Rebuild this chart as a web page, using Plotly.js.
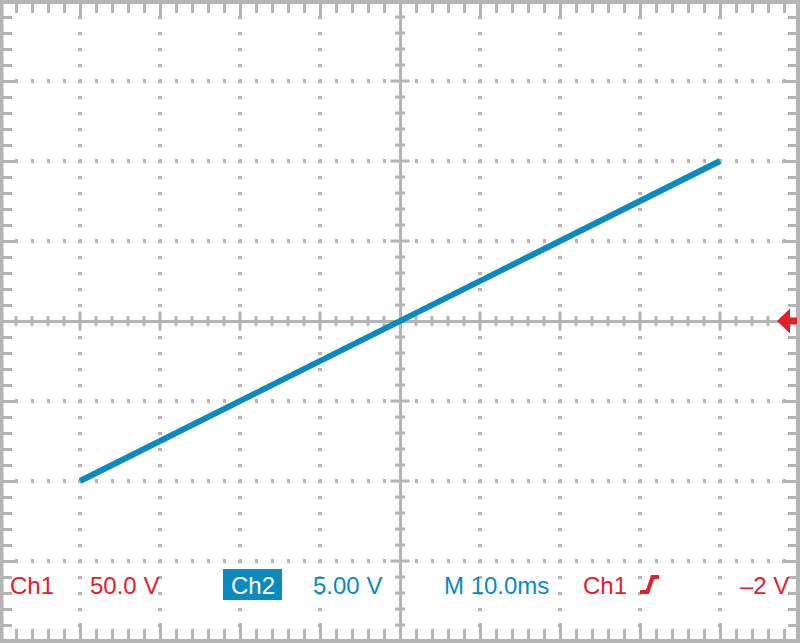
<!DOCTYPE html>
<html>
<head>
<meta charset="utf-8">
<script src="https://cdn.plot.ly/plotly-3.0.1.min.js"></script>
<style>
  html, body { margin: 0; padding: 0; background: #ffffff; }
  #chart { width: 800px; height: 643px; }
</style>
</head>
<body>
<div id="chart"></div>
<script>
// ---- data (Ch2 ramp, 10 ms/div, 5 V/div) ----
const timeMs = [-40, 40];
const ch2Volts = [-10, 10];
const timeRange = [-50, 50];
const voltRange = [-20, 20];
const timePerDiv = 10;
const voltPerDiv = 5;
const readoutLabels = ['Ch1', '50.0 V', 'Ch2', '5.00 V', 'M 10.0ms', 'Ch1', '\u20132 V'];

// ---- styles ----
const GRAY = '#b4b4b4';
const BLUE = '#0a8abf';
const RED = '#e3202a';
const FONT = 'Liberation Sans, Arial, sans-serif';
const W = 800, H = 643, MT = 1, MB = 2;
const PH = H - MT - MB;

function px2paperX(px) { return px / W; }
function px2paperY(py) { return (H - MB - py) / PH; }
function pt(px, py) { return px2paperX(px).toFixed(5) + ',' + px2paperY(py).toFixed(5); }

const shapes = [];

// center-axis tick marks
const minorT = timePerDiv / 5, minorV = voltPerDiv / 5;
for (let i = -24; i <= 24; i++) {
  if (i === 0) continue;
  const t = i * minorT;
  const major = (i % 5 === 0);
  const h = major ? 9.5 : 5;
  shapes.push({type: 'line', layer: 'below', xref: 'x', yref: 'y', ysizemode: 'pixel', yanchor: 0,
    x0: t, x1: t, y0: -h, y1: h, line: {color: GRAY, width: 3}});
}
for (let i = -19; i <= 19; i++) {
  if (i === 0) continue;
  const v = i * minorV;
  const major = (i % 5 === 0);
  const h = major ? 9.5 : 5;
  shapes.push({type: 'line', layer: 'below', yref: 'y', xref: 'x', xsizemode: 'pixel', xanchor: 0,
    y0: v, y1: v, x0: -h, x1: h, line: {color: GRAY, width: 3}});
}

// frame
shapes.push({type: 'line', xref: 'paper', yref: 'paper', x0: 0, x1: 0, y0: -0.02, y1: 1.02, line: {color: GRAY, width: 7}});
shapes.push({type: 'line', xref: 'paper', yref: 'paper', x0: 1, x1: 1, y0: -0.02, y1: 1.02, line: {color: GRAY, width: 8}});
shapes.push({type: 'line', xref: 'paper', yref: 'paper', x0: -0.01, x1: 1.01, y0: 1, y1: 1, line: {color: GRAY, width: 6}});
shapes.push({type: 'line', xref: 'paper', yref: 'paper', x0: -0.01, x1: 1.01, y0: 0, y1: 0, line: {color: GRAY, width: 4}});

// trigger-level arrow at right edge
shapes.push({type: 'path', xref: 'paper', xsizemode: 'pixel', xanchor: 1, yref: 'y', ysizemode: 'pixel', yanchor: 0,
  path: 'M-23,0 L-10,12.5 L-10,3.5 L-3,3.5 L-3,-3.5 L-10,-3.5 L-10,-12.5 Z',
  fillcolor: RED, line: {width: 0}});

// Ch2 label box
shapes.push({type: 'rect', xref: 'paper', yref: 'paper',
  x0: px2paperX(223), x1: px2paperX(282), y0: px2paperY(600), y1: px2paperY(569),
  fillcolor: BLUE, line: {width: 0}});

// rising-edge trigger glyph
shapes.push({type: 'path', xref: 'paper', yref: 'paper',
  path: 'M' + pt(640, 592) + ' L' + pt(647.5, 592) + ' L' + pt(652.5, 577) + ' L' + pt(659, 577),
  line: {color: RED, width: 4}});

// readout annotations
const yText = px2paperY(585.7);
const ann = (text, xpx, anchor, color) => ({
  text: text, xref: 'paper', yref: 'paper', x: px2paperX(xpx), y: yText,
  xanchor: anchor, yanchor: 'middle', showarrow: false,
  font: {family: FONT, size: 24, color: color}
});
const annotations = [
  ann(readoutLabels[0], 8, 'left', RED),
  ann(readoutLabels[1], 88, 'left', RED),
  ann(readoutLabels[2], 252.5, 'center', '#ffffff'),
  ann(readoutLabels[3], 311, 'left', BLUE),
  ann(readoutLabels[4], 442, 'left', BLUE),
  ann(readoutLabels[5], 581, 'left', RED),
  ann(readoutLabels[6], 791, 'right', RED)
];

const axisCommon = {
  showgrid: true, gridcolor: GRAY, gridwidth: 3.5, griddash: '1.5px,13px,1.5px,0px',
  zeroline: true, zerolinecolor: GRAY, zerolinewidth: 3,
  ticks: 'inside', ticklen: 18, tickwidth: 3, tickcolor: GRAY, mirror: 'ticks',
  showline: false, showticklabels: false, fixedrange: true
};

const layout = {
  width: W, height: H,
  margin: {l: 0, r: 0, t: MT, b: MB, pad: 0},
  paper_bgcolor: '#ffffff', plot_bgcolor: '#ffffff',
  showlegend: false, hovermode: false,
  xaxis: Object.assign({}, axisCommon, {
    range: timeRange, tick0: 0, dtick: timePerDiv,
    minor: {dtick: minorT, ticks: 'inside', ticklen: 12, tickwidth: 3, tickcolor: GRAY, showgrid: false}
  }),
  yaxis: Object.assign({}, axisCommon, {
    range: voltRange, tick0: 0, dtick: voltPerDiv,
    minor: {dtick: minorV, ticks: 'inside', ticklen: 12, tickwidth: 3, tickcolor: GRAY, showgrid: false}
  }),
  shapes: shapes,
  annotations: annotations
};

const traces = [{
  type: 'scatter', mode: 'lines', x: timeMs, y: ch2Volts,
  line: {color: BLUE, width: 6}, hoverinfo: 'skip'
}];

Plotly.newPlot('chart', traces, layout, {staticPlot: true, displayModeBar: false});
</script>
</body>
</html>
